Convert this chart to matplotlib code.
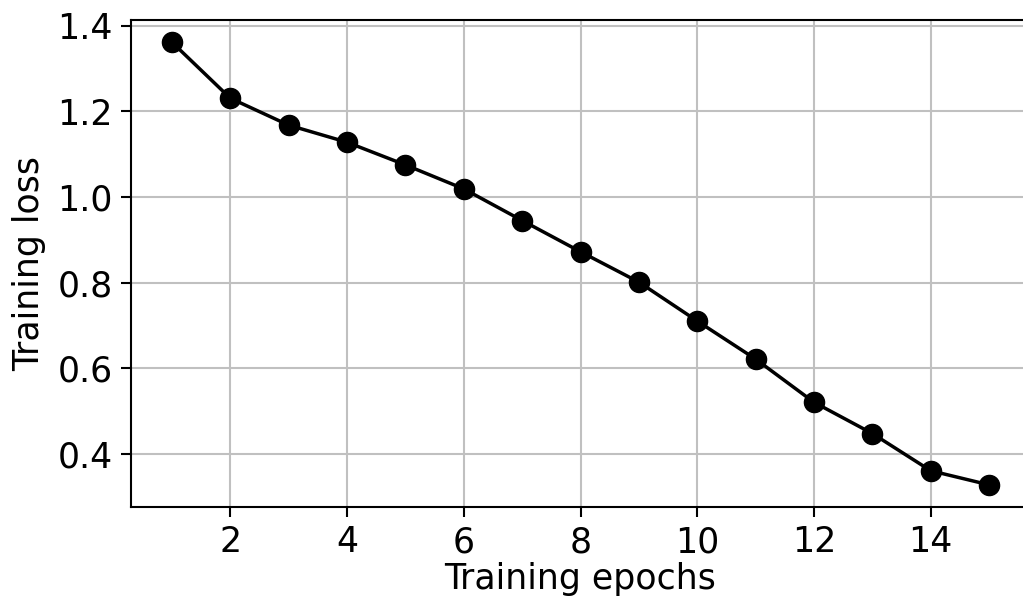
import matplotlib
matplotlib.use("Agg")
import matplotlib.pyplot as plt

# values
epochs = [1, 2, 3, 4, 5, 6, 7, 8, 9, 10, 11, 12, 13, 14, 15]
loss = [1.362, 1.231, 1.168, 1.128, 1.075, 1.019, 0.945, 0.872, 0.801,
        0.710, 0.621, 0.520, 0.447, 0.360, 0.327]

plt.rcParams.update({
    "font.family": "DejaVu Sans",
    "font.size": 25,
    "axes.linewidth": 1.5,
    "xtick.major.width": 1.5,
    "ytick.major.width": 1.5,
    "xtick.major.size": 7,
    "ytick.major.size": 7,
})

fig = plt.figure(figsize=(10.23, 5.97), dpi=100)
# axes runs slightly past the right edge, as in the reference crop
ax = fig.add_axes([131 / 1023, 1 - 507 / 597, 899 / 1023, 487 / 597])

ax.plot(epochs, loss, color="black", linewidth=2.5, marker="o", markersize=14.5)
ax.grid(True, color="#c0c0c0", linewidth=1.5)
ax.set_axisbelow(True)

ax.set_xticks([2, 4, 6, 8, 10, 12, 14])
ax.set_yticks([0.4, 0.6, 0.8, 1.0, 1.2, 1.4])
ax.tick_params(labelsize=25, pad=6)

ax.set_xlabel("Training epochs", fontsize=25, labelpad=2)
ax.set_ylabel("Training loss", fontsize=25, labelpad=8)

fig.savefig("out.png", dpi=100)
